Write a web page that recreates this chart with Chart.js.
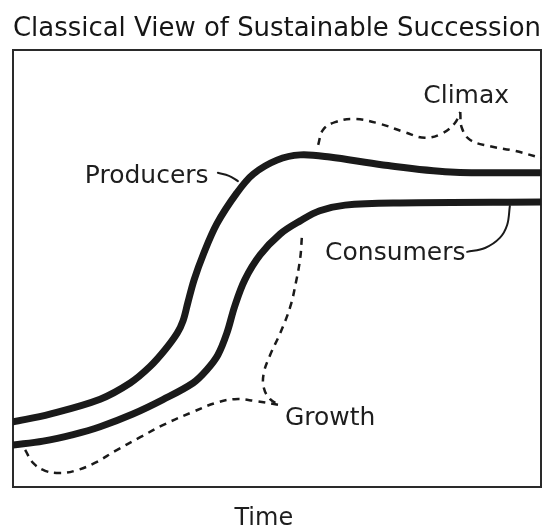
<!DOCTYPE html>
<html>
<head>
<meta charset="utf-8">
<script src="https://cdn.jsdelivr.net/npm/chart.js@4"></script>
<style>
  html, body { margin: 0; padding: 0; background: #ffffff; }
  #wrap { width: 544px; height: 529px; }
</style>
</head>
<body>
<div id="wrap"><canvas id="c" width="544" height="529"></canvas></div>
<script>
// ---- Data (time 0-100, level 0-100) ----
const producersX = [0, 7.0, 16.5, 22.2, 25.9, 28.8, 31.1, 32.2, 33.1, 34.3, 36.0, 38.6, 42.4, 45.5, 50.0, 54.4, 60.0, 70.1, 82.8, 100];
const producersY = [14.9, 16.7, 20.1, 23.8, 27.5, 31.4, 35.2, 38.0, 42.1, 47.4, 53.1, 60.2, 67.3, 71.6, 74.8, 76.0, 75.5, 73.7, 72.1, 71.9];

const consumersX = [0, 5.7, 11.4, 16.5, 22.7, 28.4, 34.1, 36.7, 38.8, 40.5, 42.0, 43.9, 46.8, 50.6, 54.4, 58.1, 62.9, 73.3, 100];
const consumersY = [9.6, 10.5, 12.0, 13.8, 16.7, 20.0, 23.8, 26.8, 30.2, 35.2, 41.4, 47.4, 53.1, 57.9, 60.9, 63.2, 64.5, 65.0, 65.2];

// Climax brace (two halves meeting at the pointer)
const climaxLeftX = [57.8, 58.7, 61.0, 64.8, 69.5, 74.2, 78.0, 81.4, 83.7, 84.7];
const climaxLeftY = [78.3, 81.7, 83.5, 84.2, 83.1, 81.2, 79.9, 81.0, 83.3, 85.8];
const climaxRightX = [84.7, 85.0, 86.6, 90.3, 95.1, 100];
const climaxRightY = [85.8, 82.2, 79.4, 78.0, 76.9, 75.3];

// Growth brace (two halves meeting at the arrow)
const growthUpperX = [54.7, 54.4, 53.6, 52.5, 50.6, 48.7, 47.5, 47.5, 48.7, 50.4];
const growthUpperY = [57.0, 52.4, 46.9, 41.2, 35.2, 30.2, 26.1, 22.7, 20.1, 18.8];
const growthLowerX = [2.3, 3.8, 6.1, 8.9, 11.7, 15.5, 19.3, 24.1, 28.8, 34.1, 38.3, 42.0, 45.8, 50.4];
const growthLowerY = [8.5, 5.5, 3.7, 3.2, 3.7, 5.5, 8.2, 11.4, 14.4, 17.2, 19.2, 20.1, 19.7, 18.8];

// Label leader lines
const producersLeaderX = [38.8, 40.9, 42.6];
const producersLeaderY = [71.9, 71.2, 70.0];
const consumersLeaderX = [86.0, 89.4, 92.2, 93.6, 94.1];
const consumersLeaderY = [53.8, 54.7, 57.0, 60.0, 64.3];

// Text
const titleText = "Classical View of Sustainable Succession";
const axisLabel = "Time";
const axisLabelAt = 47.5;
const labelTexts = ["Producers", "Consumers", "Climax", "Growth"];
const labelX = [13.6, 59.1, 77.7, 51.5];
const labelY = [69.6, 51.9, 87.9, 14.2];

// ---- Build ----
const pts = (xs, ys) => xs.map((x, i) => ({ x: x, y: ys[i] }));
const INK = '#1a1a1a';
const FONT = "'DejaVu Sans', Verdana, sans-serif";

function solid(data, w) {
  return { data: data, showLine: true, borderColor: INK, borderWidth: w, pointRadius: 0,
           tension: 0.35, fill: false,
           borderCapStyle: 'round', borderJoinStyle: 'round' };
}
function dashed(data) {
  return { data: data, showLine: true, borderColor: INK, borderWidth: 2.5, borderDash: [7, 6],
           pointRadius: 0, tension: 0.4, fill: false, clip: false };
}

const framePlugin = {
  id: 'frame',
  beforeDatasetsDraw(chart) {
    const a = chart.chartArea, ctx = chart.ctx;
    ctx.save();
    ctx.strokeStyle = '#2a2a2a';
    ctx.lineWidth = 2;
    ctx.strokeRect(a.left, a.top, a.right - a.left, a.bottom - a.top);
    ctx.restore();
  }
};

const labelPlugin = {
  id: 'curveLabels',
  afterDatasetsDraw(chart) {
    const ctx = chart.ctx, sx = chart.scales.x, sy = chart.scales.y;
    ctx.save();
    ctx.fillStyle = '#1e1e1e';
    ctx.font = "25px " + FONT;
    ctx.textAlign = 'left';
    ctx.textBaseline = 'alphabetic';
    labelTexts.forEach((t, i) => {
      ctx.fillText(t, sx.getPixelForValue(labelX[i]), sy.getPixelForValue(labelY[i]));
    });
    // axis title under the frame
    ctx.font = "24px " + FONT;
    ctx.textAlign = 'center';
    ctx.fillText(axisLabel, sx.getPixelForValue(axisLabelAt), chart.chartArea.bottom + 38);
    ctx.restore();
  }
};

new Chart(document.getElementById('c'), {
  type: 'scatter',
  data: {
    datasets: [
      solid(pts(producersX, producersY), 7),
      solid(pts(consumersX, consumersY), 7),
      dashed(pts(climaxLeftX, climaxLeftY)),
      dashed(pts(climaxRightX, climaxRightY)),
      dashed(pts(growthUpperX, growthUpperY)),
      dashed(pts(growthLowerX, growthLowerY)),
      solid(pts(producersLeaderX, producersLeaderY), 2),
      solid(pts(consumersLeaderX, consumersLeaderY), 2)
    ]
  },
  options: {
    responsive: false,
    animation: false,
    events: [],
    layout: { padding: { left: 13, right: 3, top: 0, bottom: 42 } },
    scales: {
      x: { type: 'linear', min: 0, max: 100, display: false },
      y: { type: 'linear', min: 0, max: 100, display: false }
    },
    plugins: {
      legend: { display: false },
      tooltip: { enabled: false },
      title: {
        display: true, text: titleText, color: '#161616',
        font: { family: FONT, size: 26, weight: 'normal', lineHeight: 1 },
        padding: { top: 16.4, bottom: 7.6 }
      }
    }
  },
  plugins: [framePlugin, labelPlugin]
});
</script>
</body>
</html>
